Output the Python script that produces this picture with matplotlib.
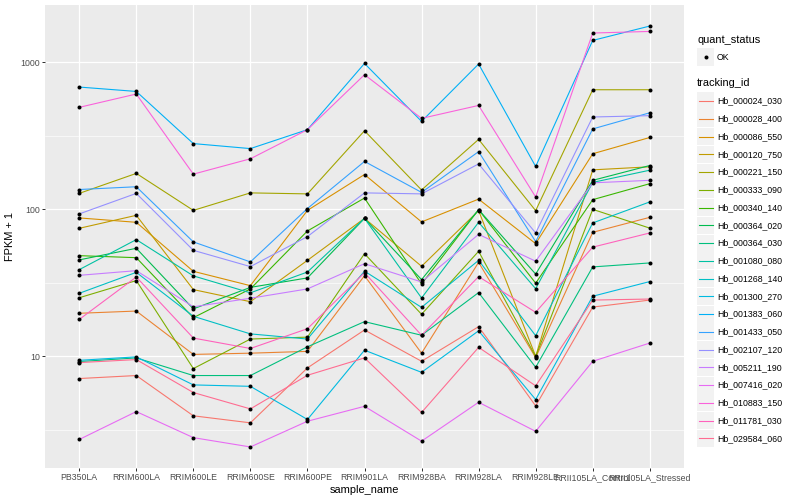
import numpy as np
import matplotlib.pyplot as plt
from matplotlib.lines import Line2D
from matplotlib.patches import Rectangle

plt.rcParams['font.family'] = ['Liberation Sans', 'DejaVu Sans']

# ===== data (FPKM + 1) =====
samples = ['PB350LA', 'RRIM600LA', 'RRIM600LE', 'RRIM600SE', 'RRIM600PE',
           'RRIM901LA', 'RRIM928BA', 'RRIM928LA', 'RRIM928LE',
           'RRII105LA_Control', 'RRII105LA_Stressed']

tracking_ids = ['Hb_000024_030', 'Hb_000028_400', 'Hb_000086_550', 'Hb_000120_750',
                'Hb_000221_150', 'Hb_000333_090', 'Hb_000340_140', 'Hb_000364_020',
                'Hb_000364_030', 'Hb_001080_080', 'Hb_001268_140', 'Hb_001300_270',
                'Hb_001383_060', 'Hb_001433_050', 'Hb_002107_120', 'Hb_005211_190',
                'Hb_007416_020', 'Hb_010883_150', 'Hb_011781_030', 'Hb_029584_060']

hb_000024_030 = [7.06, 7.40, 3.94, 3.53, 8.34, 15.1, 9.25, 15.9, 4.60, 21.6, 24.1]
hb_000028_400 = [19.6, 20.3, 10.3, 10.5, 10.8, 35.3, 10.5, 43.5, 9.80, 69.6, 88.0]
hb_000086_550 = [87.2, 81.4, 37.8, 30.2, 98.1, 172, 81.9, 117, 58.3, 238, 307]
hb_000120_750 = [74.1, 90.8, 28.4, 23.5, 44.9, 86.6, 40.9, 97.7, 10.0, 185, 194]
hb_000221_150 = [128, 175, 98.1, 129, 127, 341, 135, 298, 97.7, 648, 648]
hb_000333_090 = [25.0, 32.7, 8.25, 13.1, 13.5, 49.8, 19.3, 51.7, 9.95, 99.7, 74.3]
hb_000340_140 = [48.3, 46.8, 18.3, 28.7, 71.1, 119, 31.0, 99.2, 31.4, 116, 149]
hb_000364_020 = [45.2, 54.2, 21.0, 29.4, 34.1, 86.6, 33.2, 99.2, 36.2, 157, 198]
hb_000364_030 = [9.21, 9.75, 7.40, 7.40, 11.6, 17.2, 13.9, 27.1, 8.42, 40.5, 43.1]
hb_001080_080 = [38.8, 62.1, 35.2, 27.0, 37.4, 86.6, 24.9, 81.4, 28.8, 152, 184]
hb_001268_140 = [26.8, 37.2, 18.7, 14.2, 13.1, 37.9, 21.5, 44.9, 13.8, 80.6, 112]
hb_001300_270 = [9.39, 9.91, 6.39, 6.25, 3.72, 11.0, 7.78, 14.9, 5.08, 25.6, 32.2]
hb_001383_060 = [676, 631, 279, 258, 347, 978, 395, 969, 195, 1402, 1756]
hb_001433_050 = [136, 142, 59.9, 43.8, 101, 211, 130, 246, 60.2, 351, 452]
hb_002107_120 = [92.8, 128, 52.5, 40.7, 65.1, 129, 127, 203, 68.9, 423, 432]
hb_005211_190 = [35.5, 38.2, 21.7, 24.8, 28.7, 42.6, 32.0, 67.4, 44.3, 151, 157]
hb_007416_020 = [2.72, 4.21, 2.80, 2.42, 3.62, 4.57, 2.65, 4.87, 3.09, 9.25, 12.3]
hb_010883_150 = [492, 606, 173, 220, 347, 820, 414, 507, 121, 1574, 1614]
hb_011781_030 = [17.8, 34.6, 13.3, 11.3, 15.4, 37.0, 13.9, 34.8, 19.9, 55.2, 68.9]
hb_029584_060 = [9.06, 9.50, 5.67, 4.39, 7.43, 9.75, 4.15, 11.5, 6.30, 24.1, 24.5]

series = [hb_000024_030, hb_000028_400, hb_000086_550, hb_000120_750, hb_000221_150,
          hb_000333_090, hb_000340_140, hb_000364_020, hb_000364_030, hb_001080_080,
          hb_001268_140, hb_001300_270, hb_001383_060, hb_001433_050, hb_002107_120,
          hb_005211_190, hb_007416_020, hb_010883_150, hb_011781_030, hb_029584_060]

# ggplot hue palette, 20 levels
colors = ['#F8766D', '#EA8331', '#D89000', '#C09B00', '#A3A500', '#7CAE00', '#39B600',
          '#00BB4E', '#00BF7D', '#00C1A3', '#00BFC4', '#00BAE0', '#00B0F6', '#35A2FF',
          '#9590FF', '#C77CFF', '#E76BF3', '#FA62DB', '#FF62BC', '#FF6C91']

# ===== figure =====
W, H = 800, 500
fig = plt.figure(figsize=(W / 72, H / 72), dpi=72)
ax = fig.add_axes([45 / W, 1 - 468 / H, (684 - 45) / W, (468 - 5) / H])
ax.set_facecolor('#EBEBEB')
for s in ax.spines.values():
    s.set_visible(False)

x = np.arange(len(samples))
for vals, c in zip(series, colors):
    ax.plot(x, vals, color=c, lw=1.1, zorder=3)
for vals in series:
    ax.plot(x, vals, 'o', color='black', ms=4, mew=0, zorder=4)

ax.set_yscale('log')
allv = np.concatenate([np.asarray(v) for v in series])
lo, hi = np.log10(allv.min()), np.log10(allv.max())
pad = (hi - lo) * 0.05
ax.set_ylim(10 ** (lo - pad), 10 ** (hi + pad))
ax.set_xlim(-0.6, len(samples) - 0.4)

ax.set_yticks([10, 100, 1000])
ax.set_yticklabels(['10', '100', '1000'])
ax.set_yticks([10 ** 0.5, 10 ** 1.5, 10 ** 2.5], minor=True)
ax.yaxis.set_minor_formatter(plt.NullFormatter())
ax.set_xticks(x)
ax.set_xticklabels(samples)
ax.tick_params(axis='both', which='major', length=2.75, width=1.0, color='#333333',
               labelsize=8.8, labelcolor='#4D4D4D', pad=2.2)
ax.tick_params(axis='y', which='minor', length=0)
ax.grid(True, which='major', color='white', lw=1.3, zorder=0)
ax.grid(True, which='minor', axis='y', color='white', lw=0.6, zorder=0)
ax.set_axisbelow(True)

ax.set_xlabel('sample_name', fontsize=11, labelpad=3)
ax.set_ylabel('FPKM + 1', fontsize=11, labelpad=5)

# ===== legend (drawn by hand) =====
def fx(px):
    return px / W

def fy(py):
    return 1 - py / H

key_x0, key_w, key_h = 697, 17, 17
fig.text(fx(697), fy(40), 'quant_status', fontsize=11, va='center', ha='left')
fig.add_artist(Rectangle((fx(key_x0), fy(57 + key_h / 2)), key_w / W, key_h / H,
                         transform=fig.transFigure, facecolor='#F2F2F2', edgecolor='none'))
fig.add_artist(Line2D([fx(key_x0 + key_w / 2)], [fy(57)], marker='o', ms=4, mew=0,
                      color='black', transform=fig.transFigure))
fig.text(fx(717), fy(57), 'OK', fontsize=8.8, va='center', ha='left')

fig.text(fx(697), fy(83), 'tracking_id', fontsize=11, va='center', ha='left')
for i, (tid, c) in enumerate(zip(tracking_ids, colors)):
    cy = 101 + i * 17.75
    fig.add_artist(Rectangle((fx(key_x0), fy(cy + key_h / 2)), key_w / W, key_h / H,
                             transform=fig.transFigure, facecolor='#F2F2F2',
                             edgecolor='none'))
    fig.add_artist(Line2D([fx(key_x0 + 1.5), fx(key_x0 + key_w - 1.5)], [fy(cy), fy(cy)],
                          color=c, lw=1.1, transform=fig.transFigure))
    fig.text(fx(717), fy(cy), tid, fontsize=8.8, va='center', ha='left')

fig.savefig('out.png', dpi=72, facecolor='white')
